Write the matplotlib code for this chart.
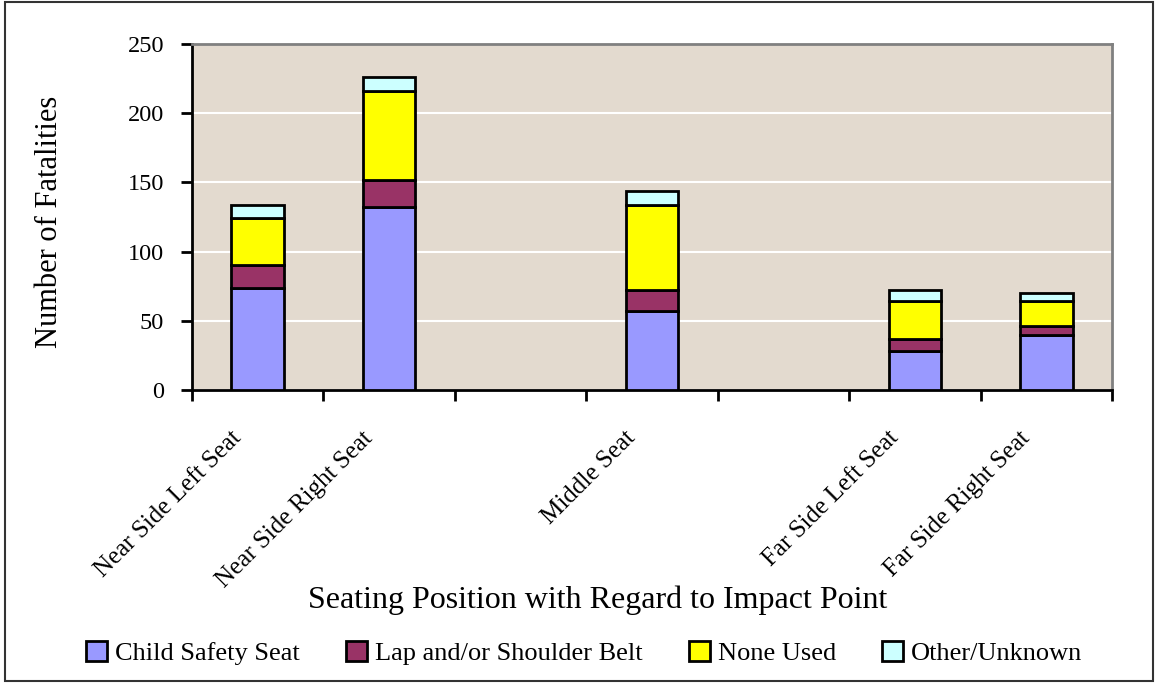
import numpy as np
import matplotlib
matplotlib.use('Agg')
import matplotlib.pyplot as plt
from matplotlib.patches import Rectangle, Patch
from matplotlib.transforms import ScaledTranslation

# seating positions (empty slots keep the gaps seen in the chart)
positions = ["Near Side Left Seat", "Near Side Right Seat", "", "Middle Seat", "",
             "Far Side Left Seat", "Far Side Right Seat"]
child_seat = [74, 132, 0, 57, 0, 28, 40]
lap_belt = [16, 20, 0, 15, 0, 9, 6]
none_used = [34, 64, 0, 62, 0, 27, 18]
other_unknown = [10, 10, 0, 10, 0, 8, 6]

series = [("Child Safety Seat", child_seat, "#9999FF"),
          ("Lap and/or Shoulder Belt", lap_belt, "#993366"),
          ("None Used", none_used, "#FFFF00"),
          ("Other/Unknown", other_unknown, "#CCFFFF")]

plt.rcParams['font.family'] = ['Liberation Serif', 'DejaVu Serif']

fig = plt.figure(figsize=(11.58, 6.83), dpi=100)
ax = fig.add_axes([192 / 1158, 1 - 390 / 683, 920 / 1158, 346 / 683])
ax.set_facecolor("#E3DACF")

x = np.arange(len(positions))
bottom = np.zeros(len(positions))
for name, vals, col in series:
    vals = np.array(vals, dtype=float)
    mask = vals > 0
    ax.bar(x[mask], vals[mask], width=0.4, bottom=bottom[mask], color=col,
           edgecolor="black", linewidth=2, zorder=3)
    bottom += vals

ax.set_xlim(-0.5, len(positions) - 0.5)
ax.set_ylim(0, 250)
ax.set_yticks(range(0, 251, 50))
ax.yaxis.grid(True, color="white", linewidth=1.5, zorder=1)
ax.set_axisbelow(True)

# tick marks at category boundaries, labels drawn separately at the centres
ax.set_xticks(np.arange(-0.5, len(positions)))
ax.set_xticklabels([])
ax.tick_params(axis="x", length=8, width=2, direction="out")
ax.tick_params(axis="y", length=8, width=2, labelsize=17.5, pad=12)

shift = ScaledTranslation(-0.28, -0.37, fig.dpi_scale_trans)
for i, lab in enumerate(positions):
    if lab:
        ax.text(i, 0, lab, transform=ax.transData + shift, rotation=45,
                rotation_mode="anchor", ha="right", va="top", fontsize=18)

for s in ["left", "bottom"]:
    ax.spines[s].set_linewidth(2)
    ax.spines[s].set_color("black")
for s in ["top", "right"]:
    ax.spines[s].set_linewidth(2)
    ax.spines[s].set_color("#808080")

fig.text(50 / 1158, 1 - 222 / 683, "Number of Fatalities", rotation=90,
         ha="center", va="center", fontsize=22)
fig.text(598 / 1158, 1 - 600 / 683, "Seating Position with Regard to Impact Point",
         ha="center", va="center", fontsize=23)

handles = [Patch(facecolor=col, edgecolor="black", linewidth=2, label=name)
           for name, vals, col in series]
fig.legend(handles=handles, loc="center", bbox_to_anchor=(584 / 1158, 1 - 653 / 683),
           ncol=4, frameon=False, fontsize=19, handlelength=0.8, handleheight=0.8,
           handletextpad=0.3, columnspacing=1.75)

fig.patches.append(Rectangle((0.004, 0.003), 0.992, 0.994, transform=fig.transFigure,
                             fill=False, edgecolor="#333333", linewidth=1.5))

plt.savefig("out.png", dpi=100)
